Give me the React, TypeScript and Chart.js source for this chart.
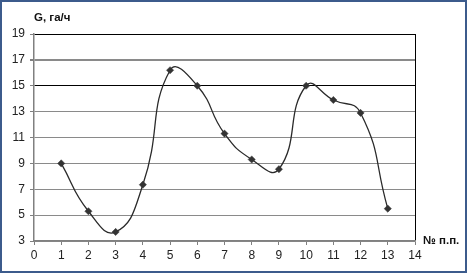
import React, { useEffect, useRef } from "react";
import { Chart, registerables } from "chart.js";

Chart.register(...registerables);

const xValues = [1, 2, 3, 4, 5, 6, 7, 8, 9, 10, 11, 12, 13];
const gValues = [9.0, 5.3, 3.7, 7.35, 16.2, 15.0, 11.3, 9.3, 8.55, 15.0, 13.9, 12.9, 5.5];
const xMin = 0, xMax = 14, xStep = 1;
const yMin = 3, yMax = 19, yStep = 2;
const yTitle = "G, га/ч";
const xTitle = "№ п.п.";

export default function App() {
  const ref = useRef<HTMLCanvasElement | null>(null);
  useEffect(() => {
    if (!ref.current) return;
    const chart = new Chart(ref.current, {
      type: "scatter",
      data: {
        datasets: [
          {
            data: xValues.map((x, i) => ({ x, y: gValues[i] })),
            showLine: true,
            borderColor: "#2a2a2a",
            borderWidth: 1.3,
            tension: 0.5,
            pointStyle: "rectRot",
            pointRadius: 3.6,
            pointBackgroundColor: "#333",
            pointBorderColor: "#333",
            pointBorderWidth: 0.5,
          },
        ],
      },
      options: {
        responsive: false,
        animation: false,
        plugins: { legend: { display: false }, tooltip: { enabled: false } },
        layout: { padding: { top: 34, right: 53, left: 0, bottom: 0 } },
        scales: {
          x: {
            type: "linear",
            min: xMin,
            max: xMax,
            ticks: { stepSize: xStep, color: "#222", font: { family: "Liberation Sans, Arial", size: 12 }, padding: 3, maxRotation: 0 },
            grid: {
              color: (c: any) => (c.tick && c.tick.value === xMax ? "#000" : "rgba(0,0,0,0)"),
              tickColor: "#808080",
              tickLength: 4,
              lineWidth: 1,
            },
            border: { color: "#808080", width: 1.5 },
            afterFit: (s: any) => { s.height = 34; },
          },
          y: {
            min: yMin,
            max: yMax,
            ticks: { stepSize: yStep, color: "#222", font: { family: "Liberation Sans, Arial", size: 12 }, padding: 5 },
            grid: {
              color: (c: any) => {
                const v = c.tick && c.tick.value;
                if (v === 19 || v === 15) return "#000";
                return "#8a8a8a";
              },
              lineWidth: (c: any) => (c.tick && c.tick.value === 17 ? 2 : 1),
              tickColor: "#808080",
              tickLength: 4,
            },
            border: { color: "#808080", width: 1.5 },
            afterFit: (s: any) => { s.width = 34; },
          },
        },
      },
    });
    return () => chart.destroy();
  }, []);

  const labelStyle: React.CSSProperties = {
    position: "absolute",
    fontFamily: "Liberation Sans, Arial, sans-serif",
    fontWeight: "bold",
    fontSize: 11.5,
    color: "#111",
    whiteSpace: "nowrap",
    lineHeight: "12px",
  };

  return (
    <div style={{ position: "fixed", left: 0, top: 0, width: 468, height: 275, background: "#fff" }}>
      <div
        style={{
          position: "absolute",
          left: 0,
          top: 0,
          width: 467,
          height: 273,
          boxSizing: "border-box",
          border: "2px solid #3c5b8c",
          background: "#fff",
        }}
      />
      <canvas ref={ref} width={468} height={275} style={{ position: "absolute", left: 0, top: 0, width: 468, height: 275 }} />
      <div style={{ ...labelStyle, left: 34, top: 11 }}>{yTitle}</div>
      <div style={{ ...labelStyle, left: 423, top: 234 }}>{xTitle}</div>
    </div>
  );
}
